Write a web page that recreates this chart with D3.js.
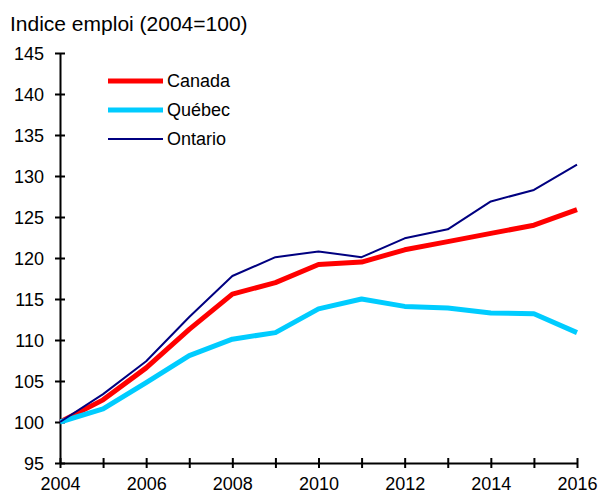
<!DOCTYPE html>
<html lang="fr">
<head>
<meta charset="UTF-8">
<title>Indice emploi</title>
<style>
    body { margin: 0; background: #fff; }
    svg text { font-family: "Liberation Sans", Arial, sans-serif; font-size: 18px; fill: #000; }
    .axis path, .axis line { stroke: #000; stroke-width: 2px; }
</style>
</head>
<body>
<script src="https://d3js.org/d3.v7.min.js"></script>
<script>
    // data
    var years = [2004, 2005, 2006, 2007, 2008, 2009, 2010, 2011, 2012, 2013, 2014, 2015, 2016];
    var canada  = [100, 102.7, 106.6, 111.3, 115.6, 117.0, 119.2, 119.5, 121.0, 122.0, 123.0, 124.0, 125.9];
    var quebec  = [100, 101.6, 104.8, 108.1, 110.1, 110.9, 113.8, 115.0, 114.1, 113.9, 113.3, 113.2, 110.9];
    var ontario = [100, 103.4, 107.4, 112.8, 117.8, 120.1, 120.8, 120.1, 122.4, 123.5, 126.9, 128.3, 131.4];
    var yTicks = [95, 100, 105, 110, 115, 120, 125, 130, 135, 140, 145];
    var xTicks = [2004, 2006, 2008, 2010, 2012, 2014, 2016];

    var series = [
        { name: "Canada",  values: canada,  color: "#ff0000", width: 5 },
        { name: "Québec",  values: quebec,  color: "#00ccff", width: 5 },
        { name: "Ontario", values: ontario, color: "#000080", width: 2 }
    ];

    var W = 601, H = 494;
    var margin = {top: 53, right: 24, bottom: 31, left: 60},
        width = W - margin.left - margin.right,
        height = H - margin.top - margin.bottom;

    var svg = d3.select("body").append("svg")
        .attr("width", W)
        .attr("height", H);

    var x = d3.scaleLinear().domain([2004, 2016]).range([0, width]),
        y = d3.scaleLinear().domain([95, 145]).range([height, 0]);

    var g = svg.append("g")
        .attr("transform", "translate(" + margin.left + "," + margin.top + ")");

    svg.append("text")
        .attr("x", 10)
        .attr("y", 31)
        .style("font-size", "21px")
        .text("Indice emploi (2004=100)");

    // y axis, ticks crossing the line
    var yAxis = g.append("g")
        .attr("class", "axis")
        .call(d3.axisLeft(y).tickValues(yTicks).tickSize(5).tickSizeOuter(0));
    yAxis.selectAll(".tick line").attr("x1", 5);
    yAxis.selectAll(".tick text").attr("x", -16).attr("dy", "0.35em");

    // x axis
    var xAxis = g.append("g")
        .attr("class", "axis")
        .attr("transform", "translate(0," + height + ")")
        .call(d3.axisBottom(x).tickValues(years).tickSize(5).tickSizeOuter(0).tickFormat(""));
    xAxis.selectAll(".tick line").attr("y1", -5);
    xAxis.selectAll(".tick")
        .filter(function(d) { return xTicks.indexOf(d) >= 0; })
        .append("text")
        .attr("y", 27)
        .attr("text-anchor", "middle")
        .text(function(d) { return d; });
    xAxis.selectAll("text").style("font-size", "18px").style("font-family", "'Liberation Sans', Arial, sans-serif");
    yAxis.selectAll("text").style("font-size", "18px").style("font-family", "'Liberation Sans', Arial, sans-serif").attr("fill", "#000");
    xAxis.selectAll("text").attr("fill", "#000");

    var line = d3.line()
        .x(function(d, i) { return x(years[i]); })
        .y(function(d) { return y(d); });

    g.selectAll(".series")
        .data(series)
        .enter().append("path")
        .attr("class", "series")
        .attr("fill", "none")
        .attr("stroke", function(d) { return d.color; })
        .attr("stroke-width", function(d) { return d.width; })
        .attr("stroke-linejoin", "round")
        .attr("d", function(d) { return line(d.values); });

    // legend
    var legend = svg.selectAll(".legend")
        .data(series)
        .enter().append("g")
        .attr("class", "legend")
        .attr("transform", function(d, i) { return "translate(108," + (81 + i * 29) + ")"; });
    legend.append("line")
        .attr("x1", 0).attr("x2", 55)
        .attr("stroke", function(d) { return d.color; })
        .attr("stroke-width", function(d) { return d.width; });
    legend.append("text")
        .attr("x", 59)
        .attr("dy", "0.35em")
        .text(function(d) { return d.name; });
</script>
</body>
</html>
